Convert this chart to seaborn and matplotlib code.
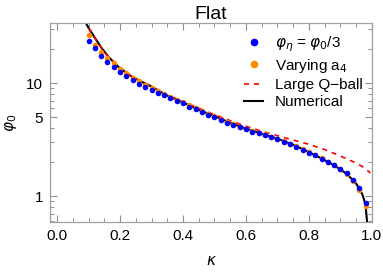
import numpy as np
import pandas as pd
import matplotlib
matplotlib.use("Agg")
import matplotlib.pyplot as plt
import matplotlib.ticker as mticker
import seaborn as sns

# dots
kappa_dots = [0.10, 0.12, 0.14, 0.16, 0.18, 0.20, 0.22, 0.24, 0.26, 0.28,
              0.30, 0.32, 0.34, 0.36, 0.38, 0.40, 0.42, 0.44, 0.46, 0.48,
              0.50, 0.52, 0.54, 0.56, 0.58, 0.60, 0.62, 0.64, 0.66, 0.68,
              0.70, 0.72, 0.74, 0.76, 0.78, 0.80, 0.82, 0.84, 0.86, 0.88,
              0.90, 0.92, 0.94, 0.96, 0.98]
phi_eta = [23.7, 20.5, 17.5, 15.3, 13.8, 12.5, 11.5, 10.6, 9.9, 9.3,
           8.7, 8.2, 7.8, 7.4, 7.0, 6.6, 6.2, 5.85, 5.5, 5.25,
           5.0, 4.7, 4.45, 4.25, 4.05, 3.89, 3.72, 3.58, 3.47, 3.32,
           3.17, 3.03, 2.88, 2.72, 2.57, 2.42, 2.29, 2.14, 2.01, 1.88,
           1.73, 1.59, 1.40, 1.19, 0.86]
phi_a4 = [26.4, 21.8, 18.9, 16.5, 14.9, 13.4, 12.2, 11.2, 10.4, 9.7,
          9.1, 8.5, 8.0, 7.6, 7.15, 6.75, 6.35, 5.98, 5.62, 5.35,
          5.08, 4.78, 4.52, 4.32, 4.12, 3.95, 3.78, 3.63, 3.51, 3.36,
          3.21, 3.06, 2.91, 2.75, 2.60, 2.44, 2.31, 2.16, 2.02, 1.88,
          1.72, 1.57, 1.36, 1.14, 0.82]

# curves
kappa_num = [0.088, 0.092, 0.10, 0.115, 0.142, 0.163, 0.195, 0.237, 0.30, 0.35,
             0.40, 0.45, 0.50, 0.55, 0.60, 0.65, 0.70, 0.75, 0.80, 0.85,
             0.88, 0.90, 0.92, 0.94, 0.95, 0.96, 0.97, 0.975, 0.98, 0.985]
phi_num = [37.0, 33.8, 30.8, 26.4, 20.3, 17.1, 13.9, 11.4, 9.3, 7.75,
           6.75, 5.8, 5.1, 4.45, 3.95, 3.57, 3.22, 2.85, 2.45, 2.08,
           1.87, 1.72, 1.57, 1.38, 1.29, 1.16, 1.03, 0.93, 0.82, 0.58]
kappa_large = [0.088, 0.092, 0.10, 0.115, 0.142, 0.163, 0.195, 0.237, 0.30, 0.35,
               0.40, 0.45, 0.50, 0.55, 0.60, 0.65, 0.70, 0.75, 0.80, 0.85,
               0.90, 0.95, 0.97, 0.99, 0.995]
phi_large = [37.0, 33.8, 30.8, 26.4, 20.3, 17.1, 13.9, 11.4, 9.3, 7.85,
             6.85, 6.0, 5.25, 4.65, 4.15, 3.75, 3.42, 3.13, 2.87, 2.58,
             2.26, 1.96, 1.82, 1.65, 1.60]

plt.rcParams["font.family"] = ["Liberation Sans", "DejaVu Sans"]
plt.rcParams["mathtext.fontset"] = "dejavusans"

fig = plt.figure(figsize=(3.83, 2.74), dpi=100)
ax = fig.add_axes([0.131, 0.19, 0.84, 0.726])

sns.lineplot(x=kappa_num, y=phi_num, ax=ax, color="black", lw=1.5,
             sort=False, estimator=None, zorder=1)
sns.lineplot(x=kappa_large, y=phi_large, ax=ax, color="red", lw=1.2,
             linestyle=(0, (3, 3)), sort=False, estimator=None, zorder=2)
sns.scatterplot(x=kappa_dots, y=phi_a4, ax=ax, color="#ff8c00", s=16,
                linewidth=0, zorder=3)
sns.scatterplot(x=kappa_dots, y=phi_eta, ax=ax, color="blue", s=16,
                linewidth=0, zorder=4)

ax.set_yscale("log")
ax.set_xlim(-0.022, 1.0)
ax.set_ylim(0.59, 34)

ax.xaxis.set_major_locator(mticker.MultipleLocator(0.2))
ax.xaxis.set_minor_locator(mticker.MultipleLocator(0.05))
ax.xaxis.set_major_formatter(mticker.FormatStrFormatter("%.1f"))
ax.yaxis.set_major_locator(mticker.FixedLocator([1, 5, 10]))
ax.yaxis.set_major_formatter(mticker.FixedFormatter(["1", "5", "10"]))
ax.yaxis.set_minor_locator(mticker.LogLocator(base=10, subs=np.arange(2, 10)))
ax.yaxis.set_minor_formatter(mticker.NullFormatter())

for s in ax.spines.values():
    s.set_visible(True)
    s.set_color("#a0a0a0")
    s.set_linewidth(0.9)
ax.tick_params(which="both", direction="in", top=True, right=True,
               color="#909090", labelcolor="black", labelsize=11, pad=5)
ax.tick_params(which="major", length=5, width=0.8)
ax.tick_params(which="minor", length=3, width=0.7)

ax.set_title("Flat", fontsize=14, pad=3)
ax.set_xlabel(r"$\kappa$", fontsize=11, labelpad=8)
ax.set_ylabel(r"$\varphi_0$", fontsize=11, labelpad=5)

handles = [
    plt.Line2D([], [], marker="o", ls="", color="blue", ms=4.5),
    plt.Line2D([], [], marker="o", ls="", color="#ff8c00", ms=4.5),
    plt.Line2D([], [], color="red", lw=1.2, ls=(0, (3, 3))),
    plt.Line2D([], [], color="black", lw=1.5),
]
labels = [r"$\varphi_\eta$ = $\varphi_0$/3", r"Varying a$_4$",
          "Large Q\u2212ball", "Numerical"]
ax.legend(handles, labels, loc="upper right", frameon=False, fontsize=11,
          handlelength=1.2, handletextpad=0.8, labelspacing=0.2,
          borderaxespad=0.2, bbox_to_anchor=(1.0, 0.99))

fig.savefig("out.png", dpi=100)
